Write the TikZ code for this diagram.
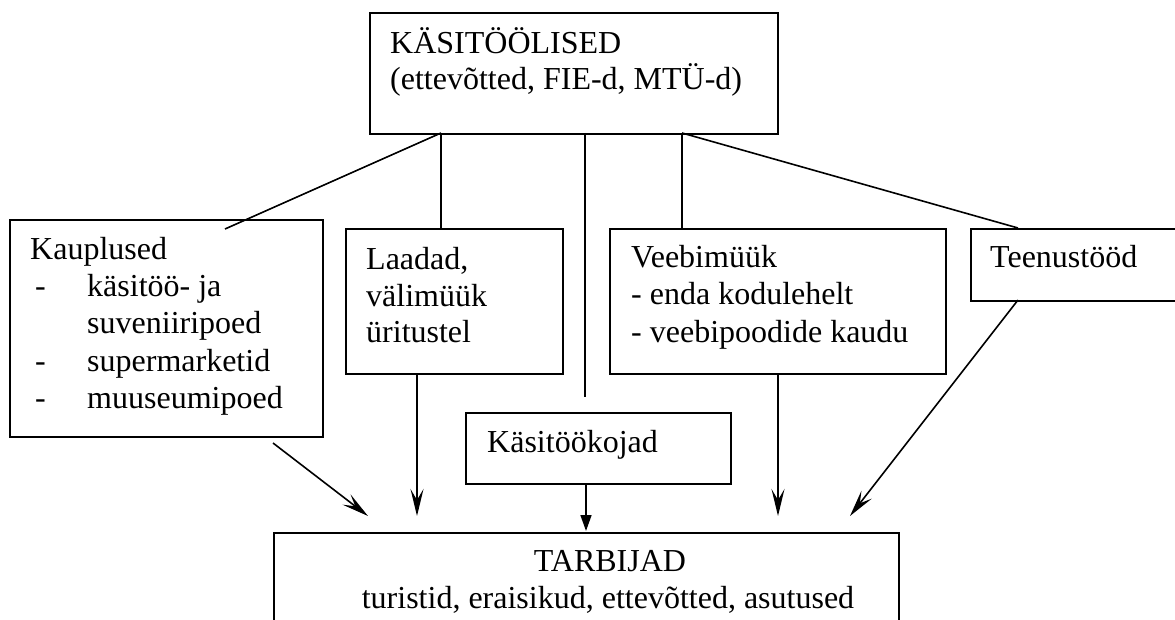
\documentclass[tikz,border=0pt]{standalone}
\usepackage{fontspec}
\setmainfont{Liberation Serif}
\usetikzlibrary{arrows.meta}
\begin{document}
\begin{tikzpicture}[x=1pt,y=-1pt,
  boxnode/.style={draw,line width=1.7pt,inner sep=0pt,anchor=north west},
  txt/.style={anchor=base west,inner sep=0pt,font=\fontsize{32}{37}\selectfont},
  ctxt/.style={anchor=base,inner sep=0pt,font=\fontsize{32}{37}\selectfont},
  conn/.style={line width=1.6pt},
  arr/.style={line width=1.6pt,-{Stealth[length=27pt,width=13pt,inset=11pt]}},
  arrf/.style={line width=1.6pt,-{Triangle[length=16pt,width=11pt]}}]
\useasboundingbox (0,0) rectangle (1175,620);
\clip (0,0) rectangle (1175,620);
\fill[white] (0,0) rectangle (1175,620);
% boxes
\node[boxnode,minimum width=408pt,minimum height=121pt] (top) at (369,12) {};
\node[boxnode,minimum width=313pt,minimum height=217pt] (kaup) at (9,219) {};
\node[boxnode,minimum width=217pt,minimum height=145pt] (laad) at (345,228) {};
\node[boxnode,minimum width=336pt,minimum height=145pt] (veeb) at (609,228) {};
\node[boxnode,minimum width=220pt,minimum height=72pt] (teen) at (970,228) {};
\node[boxnode,minimum width=265pt,minimum height=71pt] (koj) at (465,412) {};
\node[boxnode,minimum width=625pt,minimum height=130pt] (tarb) at (273,532) {};
% texts
\node[txt] (t1) at (390,54) {KÄSITÖÖLISED};
\node[txt] (t2) at (390,90) {(ettevõtted, FIE-d, MTÜ-d)};
\node[txt] (k1) at (30,260) {Kauplused};
\node[txt] (k2d) at (35,297) {-};
\node[txt] (k2) at (87,297) {käsitöö- ja};
\node[txt] (k3) at (87,334) {suveniiripoed};
\node[txt] (k4d) at (35,371) {-};
\node[txt] (k4) at (87,371) {supermarketid};
\node[txt] (k5d) at (35,408) {-};
\node[txt] (k5) at (87,408) {muuseumipoed};
\node[txt] (l1) at (366,270) {Laadad,};
\node[txt] (l2) at (366,306) {välimüük};
\node[txt] (l3) at (366,342) {üritustel};
\node[txt] (v1) at (631,268) {Veebimüük};
\node[txt] (v2) at (631,305) {- enda kodulehelt};
\node[txt] (v3) at (631,342) {- veebipoodide kaudu};
\node[txt] (te1) at (990,268) {Teenustööd};
\node[txt] (ko1) at (487,452) {Käsitöökojad};
\node[ctxt] (ta1) at (610,571) {TARBIJAD};
\node[ctxt] (ta2) at (608,608) {turistid, eraisikud, ettevõtted, asutused};
% connection points
\coordinate (pA) at (441,133);
\coordinate (pB) at (585,133);
\coordinate (pC) at (682,133);
\coordinate (kIn) at (225,229);
\coordinate (laTop) at (441,228);
\coordinate (mid) at (585,397);
\coordinate (veTop) at (682,228);
\coordinate (teTop) at (1018,228);
\coordinate (kOut) at (273,443);
\coordinate (kTip) at (368,516);
\coordinate (laBot) at (417,373);
\coordinate (laTip) at (417,516);
\coordinate (koBot) at (586,483);
\coordinate (koTip) at (586,531);
\coordinate (veBot) at (778,373);
\coordinate (veTip) at (778,516);
\coordinate (teBot) at (1018,300);
\coordinate (teTip) at (850,516);
% connectors
\draw[conn] (pA) -- (kIn);
\draw[conn] (pA) -- (laTop);
\draw[conn] (pB) -- (mid);
\draw[conn] (pC) -- (veTop);
\draw[conn] (pC) -- (teTop);
\draw[arr] (kOut) -- (kTip);
\draw[arr] (laBot) -- (laTip);
\draw[arrf] (koBot) -- (koTip);
\draw[arr] (veBot) -- (veTip);
\draw[arr] (teBot) -- (teTip);
\end{tikzpicture}
\end{document}
